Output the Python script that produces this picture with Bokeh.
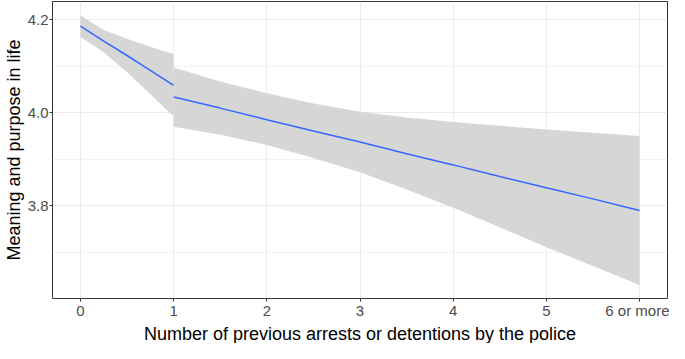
from bokeh.plotting import figure
from bokeh.models import Range1d, FixedTicker, Title
from bokeh.embed import file_html
from bokeh.resources import INLINE

# Segment 1: 0 -> 1 previous arrests
x_seg1 = [0, 0.25, 0.5, 0.75, 1]
fit_seg1 = [4.186, 4.154, 4.123, 4.091, 4.059]
upper_seg1 = [4.209, 4.178, 4.159, 4.142, 4.126]
lower_seg1 = [4.163, 4.130, 4.087, 4.040, 3.992]

# Segment 2: 1 -> 6 or more
x_seg2 = [1, 1.5, 2, 2.5, 3, 3.5, 4, 4.5, 5, 5.5, 6]
fit_seg2 = [4.034, 4.010, 3.985, 3.961, 3.937, 3.912, 3.888, 3.863, 3.839, 3.815, 3.790]
upper_seg2 = [4.097, 4.067, 4.042, 4.020, 4.002, 3.990, 3.980, 3.972, 3.964, 3.957, 3.950]
lower_seg2 = [3.970, 3.953, 3.931, 3.903, 3.872, 3.835, 3.796, 3.754, 3.711, 3.671, 3.630]

x_ticks = [0, 1, 2, 3, 4, 5, 6]
x_tick_labels = ["0", "1", "2", "3", "4", "5", "6 or more"]
y_ticks = [3.8, 4.0, 4.2]
y_minor = [3.7, 3.9, 4.1]
y_tick_labels = ["3.8", "4.0", "4.2"]

FONT = "Liberation Sans"

p = figure(width=669, height=343, output_backend="svg", toolbar_location=None,
           x_range=Range1d(-0.3, 6.3), y_range=Range1d(3.601, 4.239),
           min_border_left=0, min_border_right=2, min_border_top=1, min_border_bottom=0)

ribbon = "#D6D6D6"
line_col = "#3366FF"
p.varea(x=x_seg1, y1=lower_seg1, y2=upper_seg1, fill_color=ribbon)
p.varea(x=x_seg2, y1=lower_seg2, y2=upper_seg2, fill_color=ribbon)
p.line(x_seg1, fit_seg1, line_color=line_col, line_width=1.5)
p.line(x_seg2, fit_seg2, line_color=line_col, line_width=1.5)

p.xaxis.ticker = FixedTicker(ticks=x_ticks)
p.xaxis.major_label_overrides = {t: l for t, l in zip(x_ticks, x_tick_labels)}
p.yaxis.ticker = FixedTicker(ticks=y_ticks, minor_ticks=y_minor)
p.yaxis.major_label_overrides = {t: l for t, l in zip(y_ticks, y_tick_labels)}

p.yaxis.axis_label = "Meaning and purpose in life"

for ax in (p.xaxis[0], p.yaxis[0]):
    ax.axis_line_color = None
    ax.major_tick_line_color = "#333333"
    ax.major_tick_out = 3
    ax.major_tick_in = 0
    ax.minor_tick_line_color = None
    ax.major_label_text_font = FONT
    ax.major_label_text_font_size = "15px"
    ax.major_label_text_color = "#4D4D4D"
    ax.major_label_standoff = 0
    ax.axis_label_text_font = FONT
    ax.axis_label_text_font_size = "18px"
    ax.axis_label_text_font_style = "normal"
    ax.axis_label_text_color = "#000000"
    ax.axis_label_standoff = 1

xtitle = Title(text="Number of previous arrests or detentions by the police",
               align="center", text_font=FONT, text_font_size="18px",
               text_font_style="normal", text_color="#000000",
               standoff=0, offset=0)
p.add_layout(xtitle, "below")

p.xgrid.grid_line_color = "#EBEBEB"
p.ygrid.grid_line_color = "#EBEBEB"
p.ygrid.minor_grid_line_color = "#F2F2F2"
p.outline_line_color = "#333333"
p.outline_line_width = 1
p.background_fill_color = "white"
p.border_fill_color = "white"

open("out.html", "w").write(file_html(p, INLINE))
